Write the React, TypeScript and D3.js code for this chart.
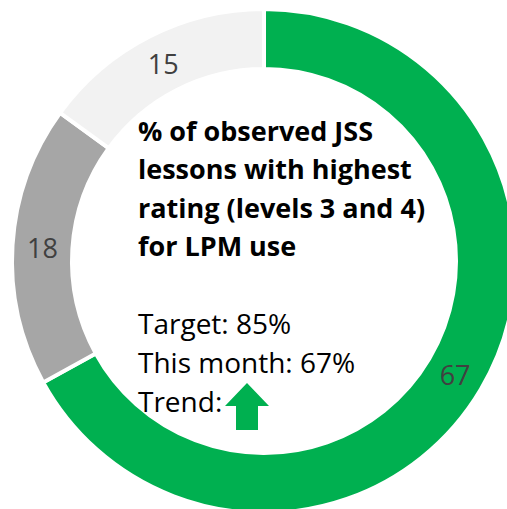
import React, { useEffect, useRef } from 'react';
import * as d3 from 'd3';

const labels = ['Highest rating', 'Level 2', 'Level 1'];
const values = [67, 18, 15];
const colors = ['#00B050', '#A6A6A6', '#F2F2F2'];
const titleLines = ['% of observed JSS', 'lessons with highest', 'rating (levels 3 and 4)', 'for LPM use'];
const infoLines = ['Target: 85%', 'This month: 67%', 'Trend:'];

const App = () => {
  const chartRef = useRef<HTMLDivElement>(null);
  const width = 507;
  const height = 509;

  useEffect(() => {
    d3.select(chartRef.current).select('svg').remove();

    const cx = 264;
    const cy = 261;
    const outer = 252;
    const inner = 192;

    const svg = d3
      .select(chartRef.current)
      .append('svg')
      .attr('width', width)
      .attr('height', height)
      .style('display', 'block');

    const g = svg.append('g').attr('transform', `translate(${cx}, ${cy})`);

    const pie = d3.pie<number>().sort(null).value((d) => d);
    const arc = d3.arc<d3.PieArcDatum<number>>().innerRadius(inner).outerRadius(outer);
    const color = d3.scaleOrdinal<string, string>().domain(labels).range(colors);

    const arcs = g.selectAll('g.arc').data(pie(values)).enter().append('g').attr('class', 'arc');

    arcs
      .append('path')
      .attr('d', arc)
      .attr('fill', (d, i) => color(labels[i]))
      .attr('stroke', '#fff')
      .attr('stroke-width', 4);

    arcs
      .append('text')
      .attr('transform', (d) => `translate(${arc.centroid(d)})`)
      .attr('text-anchor', 'middle')
      .attr('dominant-baseline', 'central')
      .attr('font-family', '"Open Sans", sans-serif')
      .attr('font-size', '27px')
      .attr('fill', '#404040')
      .text((d) => d.data);

    // centre text
    const tx = 138;
    svg
      .append('g')
      .selectAll('text')
      .data(titleLines)
      .enter()
      .append('text')
      .attr('x', tx)
      .attr('y', (d, i) => 141 + i * 38.3)
      .attr('font-family', '"Open Sans", sans-serif')
      .attr('font-weight', 'bold')
      .attr('font-size', '27px')
      .attr('fill', '#000')
      .text((d) => d);

    svg
      .append('g')
      .selectAll('text')
      .data(infoLines)
      .enter()
      .append('text')
      .attr('x', tx)
      .attr('y', (d, i) => 334 + i * 39)
      .attr('font-family', '"Open Sans", sans-serif')
      .attr('font-size', '28px')
      .attr('fill', '#000')
      .text((d) => d);

    // trend arrow
    const ax = 247;
    svg
      .append('path')
      .attr(
        'd',
        `M${ax},383 L${ax + 22},406 L${ax + 11},406 L${ax + 11},430 L${ax - 11},430 L${ax - 11},406 L${ax - 22},406 Z`
      )
      .attr('fill', '#00B050');
  }, []);

  return (
    <div
      ref={chartRef}
      style={{ position: 'absolute', left: 0, top: 0, width, height, overflow: 'hidden', background: '#fff' }}
    ></div>
  );
};

export default App;
